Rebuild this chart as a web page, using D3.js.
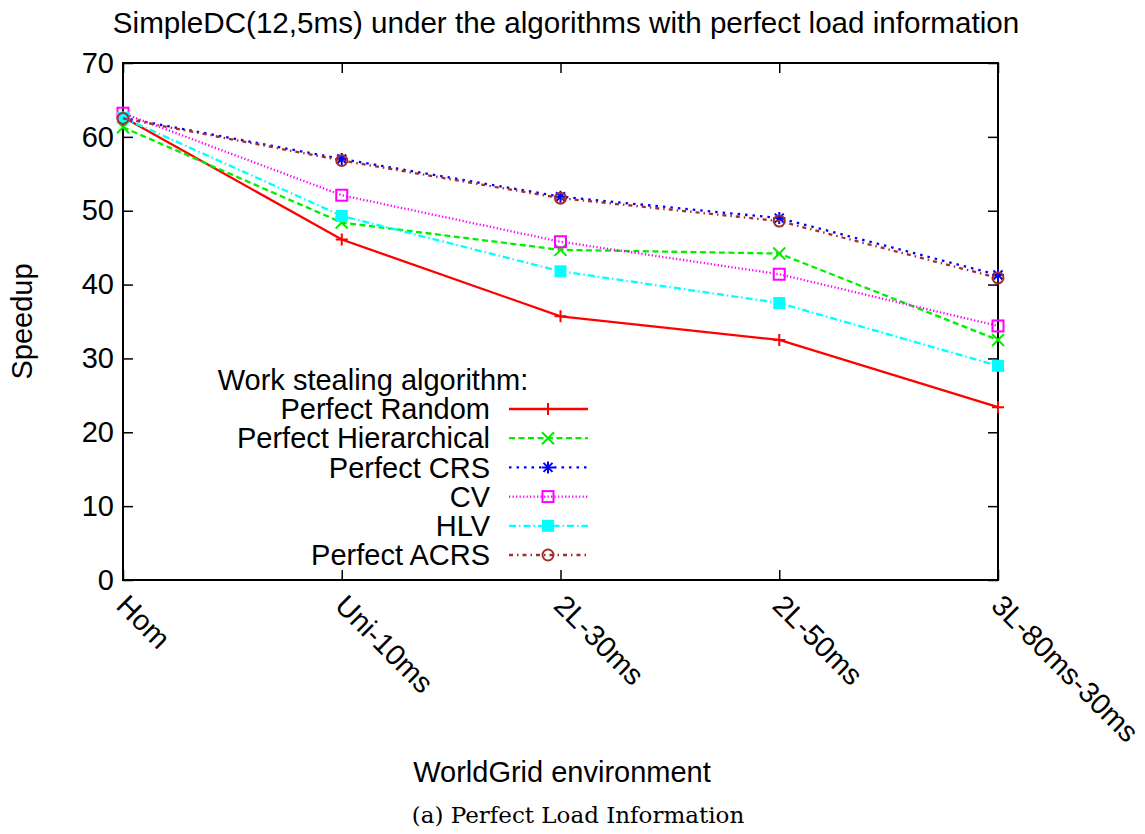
<!DOCTYPE html>
<html>
<head>
<meta charset="utf-8">
<script src="https://cdn.jsdelivr.net/npm/d3@7"></script>
<style>
  html, body { margin: 0; padding: 0; background: #fff; }
  svg { display: block; }
  text { font-family: "Liberation Sans", Arial, sans-serif; fill: #000; }
</style>
</head>
<body>
<svg id="chart" width="1145" height="834"></svg>
<script>
// ---- data ----
const categories = ["Hom", "Uni-10ms", "2L-30ms", "2L-50ms", "3L-80ms-30ms"];
const yTicks = [0, 10, 20, 30, 40, 50, 60, 70];
const seriesNames = ["Perfect Random", "Perfect Hierarchical", "Perfect CRS", "CV", "HLV", "Perfect ACRS"];
const perfectRandom       = [62.7, 46.1, 35.7, 32.5, 23.4];
const perfectHierarchical = [61.3, 48.4, 44.7, 44.2, 32.5];
const perfectCRS          = [62.6, 57.0, 51.9, 49.0, 41.3];
const cv                  = [63.2, 52.1, 45.8, 41.4, 34.4];
const hlv                 = [62.6, 49.3, 41.8, 37.5, 29.0];
const perfectACRS         = [62.5, 56.8, 51.7, 48.6, 40.9];

const titleText = "SimpleDC(12,5ms) under the algorithms with perfect load information";
const xLabel = "WorldGrid environment";
const yLabel = "Speedup";
const legendTitle = "Work stealing algorithm:";
const caption = "(a) Perfect Load Information";

// ---- styles ----
const styles = [
  {color: "#ff0000", dash: null,          marker: "plus"},
  {color: "#00ee00", dash: "6,3.5",       marker: "cross"},
  {color: "#0000ff", dash: "2.5,5",       marker: "star"},
  {color: "#ff00ff", dash: "1.3,2.2",     marker: "square"},
  {color: "#00ffff", dash: "7,3,1.5,3",   marker: "fsquare"},
  {color: "#a0302d", dash: "4,4,1.5,4",   marker: "circle"}
];
const allValues = [perfectRandom, perfectHierarchical, perfectCRS, cv, hlv, perfectACRS];
const series = seriesNames.map((n, i) => ({name: n, values: allValues[i], style: styles[i]}));

const svg = d3.select("#chart");
const L = 123, R = 998, T = 63, B = 580;
const x = d3.scalePoint().domain(categories).range([L, R]);
const y = d3.scaleLinear().domain([0, 70]).range([B, T]);
const FS = 29;

// title
svg.append("text").attr("x", 566).attr("y", 33).attr("text-anchor", "middle")
  .style("font-size", "29.6px").text(titleText);

// axes with inward ticks (mirror on all sides)
const tickLen = 10;
const axL = svg.append("g").attr("transform", `translate(${L},0)`)
  .call(d3.axisLeft(y).tickValues(yTicks).tickSize(-tickLen).tickPadding(9));
const axR = svg.append("g").attr("transform", `translate(${R},0)`)
  .call(d3.axisRight(y).tickValues(yTicks).tickSize(-tickLen).tickFormat(""));
const axB = svg.append("g").attr("transform", `translate(0,${B})`)
  .call(d3.axisBottom(x).tickSize(-tickLen).tickFormat(""));
const axT = svg.append("g").attr("transform", `translate(0,${T})`)
  .call(d3.axisTop(x).tickSize(-tickLen).tickFormat(""));
[axL, axR, axB, axT].forEach(g => {
  g.select(".domain").remove();
  g.selectAll(".tick line").attr("stroke", "#000").attr("stroke-width", 1.5);
});
axL.selectAll(".tick text").style("font-size", FS + "px").style("font-family", "Liberation Sans, Arial, sans-serif").attr("fill", "#000");

// rotated x tick labels
svg.append("g").selectAll("text").data(categories).join("text")
  .attr("transform", d => `translate(${x(d) - 1},${B + 20}) rotate(45)`)
  .attr("dy", "0.35em")
  .attr("text-anchor", "start")
  .style("font-size", FS + "px")
  .text(d => d);

// frame
svg.append("rect").attr("x", L).attr("y", T).attr("width", R - L).attr("height", B - T)
  .attr("fill", "none").attr("stroke", "#000").attr("stroke-width", 2);

// axis labels
svg.append("text").attr("transform", `translate(32,${(T + B) / 2}) rotate(-90)`)
  .attr("text-anchor", "middle").style("font-size", FS + "px").text(yLabel);
svg.append("text").attr("x", 562).attr("y", 782).attr("text-anchor", "middle")
  .style("font-size", FS + "px").text(xLabel);
svg.append("text").attr("x", 578).attr("y", 823).attr("text-anchor", "middle")
  .style("font-family", "'DejaVu Serif', 'Liberation Serif', serif").style("font-size", "23px")
  .text(caption);

// markers
function drawMarker(g, type, cx, cy, color) {
  const s = 6;
  if (type === "plus" || type === "star") {
    g.append("path").attr("d", `M${cx - s},${cy}H${cx + s}M${cx},${cy - s}V${cy + s}`)
      .attr("stroke", color).attr("stroke-width", 2).attr("fill", "none");
  }
  if (type === "cross" || type === "star") {
    const k = type === "star" ? 4.5 : 6;
    g.append("path").attr("d", `M${cx - k},${cy - k}L${cx + k},${cy + k}M${cx - k},${cy + k}L${cx + k},${cy - k}`)
      .attr("stroke", color).attr("stroke-width", 2).attr("fill", "none");
  }
  if (type === "square") {
    g.append("rect").attr("x", cx - 5.5).attr("y", cy - 5.5).attr("width", 11).attr("height", 11)
      .attr("fill", "none").attr("stroke", color).attr("stroke-width", 2);
  }
  if (type === "fsquare") {
    g.append("rect").attr("x", cx - 6).attr("y", cy - 6).attr("width", 12).attr("height", 12)
      .attr("fill", color);
  }
  if (type === "circle") {
    g.append("circle").attr("cx", cx).attr("cy", cy).attr("r", 5.5)
      .attr("fill", "none").attr("stroke", color).attr("stroke-width", 2);
  }
}

const line = d3.line().x((d, i) => x(categories[i])).y(d => y(d));
const plot = svg.append("g");
series.forEach(s => {
  const g = plot.append("g");
  g.append("path").attr("d", line(s.values)).attr("fill", "none")
    .attr("stroke", s.style.color).attr("stroke-width", 2.3)
    .attr("stroke-dasharray", s.style.dash);
  s.values.forEach((v, i) => drawMarker(g, s.style.marker, x(categories[i]), y(v), s.style.color));
});

// legend
const leg = svg.append("g");
leg.append("text").attr("x", 373).attr("y", 390).attr("text-anchor", "middle")
  .style("font-size", FS + "px").text(legendTitle);
series.forEach((s, i) => {
  const cy = 409 + i * 29.2;
  leg.append("text").attr("x", 490).attr("y", cy).attr("dy", "0.35em").attr("text-anchor", "end")
    .style("font-size", FS + "px").text(s.name);
  leg.append("line").attr("x1", 509).attr("x2", 588).attr("y1", cy).attr("y2", cy)
    .attr("stroke", s.style.color).attr("stroke-width", 2.3).attr("stroke-dasharray", s.style.dash);
  drawMarker(leg, s.style.marker, 548, cy, s.style.color);
});
</script>
</body>
</html>
